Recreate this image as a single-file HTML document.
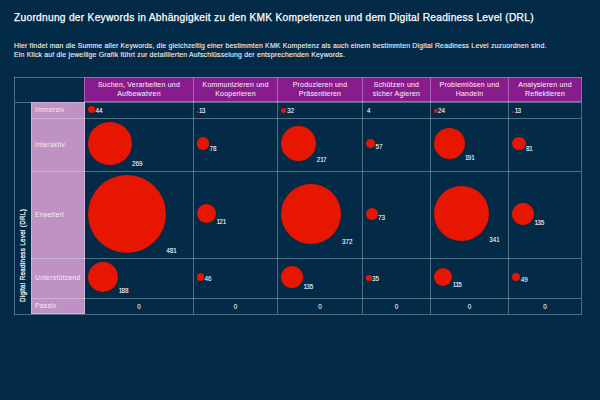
<!DOCTYPE html>
<html><head><meta charset="utf-8"><style>
html,body{margin:0;padding:0;}
body{width:600px;height:400px;background:#032a47;position:relative;overflow:hidden;font-family:"Liberation Sans", sans-serif;color:#fff;}
.a{position:absolute;}
.t{position:absolute;white-space:nowrap;line-height:1;}
.title{left:14px;top:13px;font-size:10.2px;letter-spacing:0.28px;-webkit-text-stroke:0.25px #fff;}
.sub{left:14px;font-size:6.9px;color:#f2f5f8;letter-spacing:0.195px;-webkit-text-stroke:0.1px #f2f5f8;}
.hl{position:absolute;height:1px;background:rgba(235,250,255,0.33);}
.vl{position:absolute;width:1px;background:rgba(235,250,255,0.33);}
.hd{position:absolute;font-size:7px;color:#f6eaf6;text-align:center;line-height:9px;white-space:nowrap;letter-spacing:0.22px;-webkit-text-stroke:0.05px #f6eaf6;}
.lb{position:absolute;font-size:6.7px;color:#f6eef6;line-height:1;white-space:nowrap;letter-spacing:0.3px;}
.c{position:absolute;border-radius:50%;background:#e61600;}
.n{position:absolute;font-size:6.3px;line-height:1;color:#fff;white-space:nowrap;-webkit-text-stroke:0.05px #fff;}
.n i{font-style:normal;margin-left:-0.1px;letter-spacing:-0.7px;}
.drl{position:absolute;font-size:6.3px;letter-spacing:0.3px;-webkit-text-stroke:0.2px #fff;white-space:nowrap;transform-origin:0 0;transform:rotate(-90deg);line-height:1;}
</style></head><body>

<div class="t title">Zuordnung der Keywords in Abhängigkeit zu den KMK Kompetenzen und dem Digital Readiness Level (DRL)</div>
<div class="t sub" style="top:43px">Hier findet man die Summe aller Keywords, die gleichzeitig einer bestimmten KMK Kompetenz als auch einem bestimmten Digital Readiness Level zuzuordnen sind.</div>
<div class="t sub" style="top:52px">Ein Klick auf die jeweilige Grafik führt zur detaillierten Aufschlüsselung der entsprechenden Keywords.</div>
<div class="a" style="left:84px;top:77px;width:498px;height:25px;background:#881c8c"></div>
<div class="a" style="left:31px;top:102px;width:54px;height:212px;background:#be92c2"></div>
<div class="hl" style="left:14px;top:77px;width:568px"></div>
<div class="hl" style="left:14px;top:314px;width:568px"></div>
<div class="vl" style="left:14px;top:77px;height:237px"></div>
<div class="vl" style="left:581px;top:77px;height:237px"></div>
<div class="hl" style="left:85px;top:101px;width:496px"></div>
<div class="hl" style="left:32px;top:313px;width:52px"></div>
<div class="hl" style="left:15px;top:102px;width:566px"></div>
<div class="hl" style="left:31px;top:118px;width:550px"></div>
<div class="hl" style="left:31px;top:171px;width:550px"></div>
<div class="hl" style="left:31px;top:258px;width:550px"></div>
<div class="hl" style="left:31px;top:298px;width:550px"></div>
<div class="vl" style="left:84px;top:78px;height:236px"></div>
<div class="vl" style="left:193px;top:78px;height:236px"></div>
<div class="vl" style="left:277px;top:78px;height:236px"></div>
<div class="vl" style="left:362px;top:78px;height:236px"></div>
<div class="vl" style="left:430px;top:78px;height:236px"></div>
<div class="vl" style="left:508px;top:78px;height:236px"></div>
<div class="vl" style="left:31px;top:103px;height:211px"></div>
<div class="hd" style="left:85px;top:80.4px;width:108px">Suchen, Verarbeiten und<br>Aufbewahren</div>
<div class="hd" style="left:194px;top:80.4px;width:83px">Kommunizieren und<br>Kooperieren</div>
<div class="hd" style="left:278px;top:80.4px;width:84px">Produzieren und<br>Präsentieren</div>
<div class="hd" style="left:363px;top:80.4px;width:67px">Schützen und<br>sicher Agieren</div>
<div class="hd" style="left:431px;top:80.4px;width:77px">Problemlösen und<br>Handeln</div>
<div class="hd" style="left:509px;top:80.4px;width:72px">Analysieren und<br>Reflektieren</div>
<div class="lb" style="left:35px;top:107px">Immersiv</div>
<div class="lb" style="left:35px;top:141.5px">Interaktiv</div>
<div class="lb" style="left:35px;top:211.5px">Erweitert</div>
<div class="lb" style="left:35px;top:274.8px">Unterstützend</div>
<div class="lb" style="left:35px;top:303.3px">Passiv</div>
<div class="drl" style="left:19.9px;top:302.3px">Digital Readiness Level (DRL)</div>
<div class="c" style="left:88.00px;top:105.78px;width:7.12px;height:7.12px"></div>
<div class="n" style="left:95.52px;top:108.45px">44</div>
<div class="c" style="left:196.60px;top:110.80px;width:2.10px;height:2.10px"></div>
<div class="n" style="left:199.10px;top:108.45px"><i>1</i>3</div>
<div class="c" style="left:281.30px;top:107.72px;width:5.18px;height:5.18px"></div>
<div class="n" style="left:286.88px;top:108.45px">32</div>
<div class="n" style="left:366.95px;top:108.45px">4</div>
<div class="c" style="left:433.80px;top:109.02px;width:3.88px;height:3.88px"></div>
<div class="n" style="left:438.08px;top:108.45px">24</div>
<div class="c" style="left:512.40px;top:110.80px;width:2.10px;height:2.10px"></div>
<div class="n" style="left:514.90px;top:108.45px"><i>1</i>3</div>
<div class="c" style="left:88.00px;top:121.89px;width:43.52px;height:43.52px"></div>
<div class="n" style="left:131.92px;top:160.96px">269</div>
<div class="c" style="left:196.60px;top:137.34px;width:12.62px;height:12.62px"></div>
<div class="n" style="left:209.62px;top:145.51px">78</div>
<div class="c" style="left:281.30px;top:126.09px;width:35.11px;height:35.11px"></div>
<div class="n" style="left:316.81px;top:156.76px">2<i>1</i>7</div>
<div class="c" style="left:365.90px;top:139.04px;width:9.22px;height:9.22px"></div>
<div class="n" style="left:375.52px;top:143.81px">57</div>
<div class="c" style="left:433.80px;top:128.20px;width:30.90px;height:30.90px"></div>
<div class="n" style="left:465.10px;top:154.65px"><i>1</i>9<i>1</i></div>
<div class="c" style="left:512.40px;top:137.10px;width:13.11px;height:13.11px"></div>
<div class="n" style="left:525.91px;top:145.75px">8<i>1</i></div>
<div class="c" style="left:88.00px;top:174.74px;width:77.83px;height:77.83px"></div>
<div class="n" style="left:166.23px;top:248.11px">48<i>1</i></div>
<div class="c" style="left:196.60px;top:203.86px;width:19.58px;height:19.58px"></div>
<div class="n" style="left:216.58px;top:218.99px"><i>1</i>2<i>1</i></div>
<div class="c" style="left:281.30px;top:183.56px;width:60.19px;height:60.19px"></div>
<div class="n" style="left:341.89px;top:239.29px">372</div>
<div class="c" style="left:365.90px;top:207.74px;width:11.81px;height:11.81px"></div>
<div class="n" style="left:378.11px;top:215.11px">73</div>
<div class="c" style="left:433.80px;top:186.06px;width:55.17px;height:55.17px"></div>
<div class="n" style="left:489.37px;top:236.79px">34<i>1</i></div>
<div class="c" style="left:512.40px;top:202.73px;width:21.84px;height:21.84px"></div>
<div class="n" style="left:534.64px;top:220.12px"><i>1</i>35</div>
<div class="c" style="left:88.00px;top:261.94px;width:30.42px;height:30.42px"></div>
<div class="n" style="left:118.82px;top:287.91px"><i>1</i>88</div>
<div class="c" style="left:196.60px;top:273.46px;width:7.44px;height:7.44px"></div>
<div class="n" style="left:204.44px;top:276.45px">46</div>
<div class="c" style="left:281.30px;top:266.23px;width:21.84px;height:21.84px"></div>
<div class="n" style="left:303.54px;top:283.62px"><i>1</i>35</div>
<div class="c" style="left:365.90px;top:275.24px;width:5.66px;height:5.66px"></div>
<div class="n" style="left:371.96px;top:276.45px">35</div>
<div class="c" style="left:433.80px;top:267.85px;width:18.61px;height:18.61px"></div>
<div class="n" style="left:452.81px;top:282.00px"><i>1</i><i>1</i>5</div>
<div class="c" style="left:512.40px;top:273.19px;width:7.93px;height:7.93px"></div>
<div class="n" style="left:520.73px;top:276.66px">49</div>
<div class="n" style="left:85px;width:108px;text-align:center;top:304px">0</div>
<div class="n" style="left:194px;width:83px;text-align:center;top:304px">0</div>
<div class="n" style="left:278px;width:84px;text-align:center;top:304px">0</div>
<div class="n" style="left:363px;width:67px;text-align:center;top:304px">0</div>
<div class="n" style="left:431px;width:77px;text-align:center;top:304px">0</div>
<div class="n" style="left:509px;width:72px;text-align:center;top:304px">0</div>
</body></html>
